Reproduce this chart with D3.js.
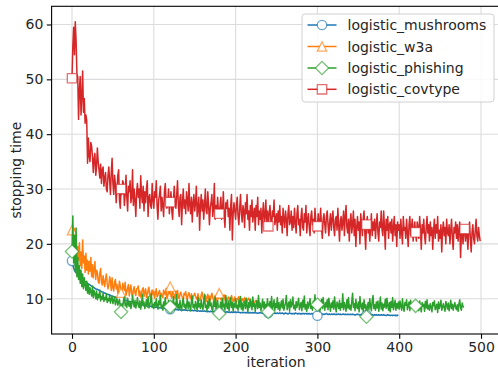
<!DOCTYPE html>
<html><head><meta charset="utf-8">
<script src="https://cdn.jsdelivr.net/npm/d3@7"></script>
<style>body{margin:0;background:#fff}svg{display:block}</style>
</head><body>
<svg id="c" width="498" height="370"></svg>
<script>
const seriesNames = ["logistic_mushrooms", "logistic_w3a", "logistic_phishing", "logistic_covtype"];
const seriesColors = ["#1f77b4", "#ff7f0e", "#2ca02c", "#d62728"];
const seriesMarkers = ["circle", "triangle", "diamond", "square"];
const xTicks = [0, 100, 200, 300, 400, 500];
const yTicks = [10, 20, 30, 40, 50, 60];
const markEvery = 60;
const xLabel = "iteration";
const yLabel = "stopping time";

const mushrooms = [
16.9,16.2,15.6,15.2,14.9,14.7,14.5,14.4,14.2,14.1,
13.9,13.8,13.6,13.5,13.4,13.2,13.1,13.0,12.9,12.8,
12.7,12.6,12.5,12.4,12.3,12.2,12.1,12.0,11.9,11.8,
11.7,11.7,11.6,11.5,11.4,11.4,11.3,11.2,11.2,11.1,
11.0,11.0,10.9,10.8,10.8,10.7,10.7,10.6,10.5,10.5,
10.4,10.4,10.3,10.3,10.2,10.2,10.1,10.1,10.0,10.0,
9.9,9.9,9.8,9.8,9.7,9.7,9.7,9.6,9.6,9.5,
9.5,9.5,9.4,9.4,9.4,9.3,9.3,9.3,9.2,9.2,
9.2,9.1,9.1,9.0,9.0,8.9,8.9,8.9,8.8,8.8,
8.8,8.7,8.7,8.7,8.6,8.6,8.6,8.6,8.5,8.5,
8.5,8.5,8.4,8.5,8.4,8.4,8.3,8.4,8.3,8.3,
8.3,8.2,8.3,8.2,8.2,8.2,8.1,8.2,8.1,8.1,
8.1,8.1,8.2,8.0,8.1,8.0,8.0,8.1,8.0,8.0,
7.9,8.0,8.0,7.9,8.0,7.9,7.9,8.0,7.9,7.9,
7.9,7.8,7.9,7.9,7.8,7.9,7.8,7.9,7.8,7.8,
7.9,7.8,7.8,7.7,7.8,7.8,7.7,7.8,7.7,7.8,
7.7,7.7,7.8,7.7,7.7,7.6,7.7,7.7,7.6,7.7,
7.7,7.6,7.7,7.6,7.6,7.7,7.6,7.6,7.7,7.6,
7.6,7.6,7.5,7.6,7.6,7.5,7.6,7.6,7.5,7.6,
7.6,7.5,7.6,7.5,7.5,7.6,7.5,7.5,7.6,7.5,
7.6,7.5,7.5,7.6,7.5,7.5,7.4,7.5,7.5,7.4,
7.5,7.5,7.4,7.5,7.4,7.5,7.4,7.4,7.5,7.4,
7.4,7.5,7.4,7.4,7.5,7.4,7.4,7.3,7.4,7.4,
7.5,7.4,7.4,7.3,7.4,7.4,7.3,7.4,7.4,7.3,
7.4,7.4,7.3,7.4,7.3,7.4,7.4,7.3,7.4,7.3,
7.3,7.4,7.3,7.3,7.4,7.3,7.3,7.4,7.3,7.2,
7.3,7.4,7.3,7.3,7.2,7.3,7.4,7.3,7.3,7.2,
7.3,7.3,7.2,7.4,7.3,7.3,7.2,7.3,7.3,7.2,
7.3,7.2,7.3,7.3,7.2,7.3,7.3,7.2,7.3,7.2,
7.3,7.2,7.2,7.3,7.2,7.3,7.2,7.2,7.3,7.1,
6.9,7.2,7.3,7.2,7.2,7.3,7.2,7.2,7.1,7.2,
7.2,7.3,7.2,7.1,7.2,7.2,7.1,7.2,7.2,7.1,
7.2,7.2,7.1,7.2,7.1,7.2,7.2,7.1,7.2,7.1,
7.1,7.2,7.2,7.1,7.2,7.1,7.1,7.2,7.1,7.1,
7.2,7.1,7.1,7.2,7.1,7.1,7.0,7.1,7.1,7.2,
7.1,7.1,7.0,7.1,7.1,7.0,7.1,7.1,7.0,7.1,
7.0,7.1,7.1,7.0,7.1,7.0,7.1,7.1,7.0,7.0,
7.1,7.0,7.1,7.0,7.0,7.1,7.0,7.0,7.1,7.0,
7.0,7.1,7.0,7.0,6.9,7.0,7.1,7.0,7.0,6.9,
7.0,7.0,6.9,7.0,7.0,6.9,7.0,6.9,7.0,6.9
];

const w3a = [
22.5,21.0,17.5,22.8,18.0,21.0,16.5,19.5,17.0,20.2,
16.0,18.5,15.5,20.7,16.5,17.8,14.8,18.3,15.2,17.0,
14.5,16.8,15.0,17.5,14.0,16.2,13.8,15.5,16.8,13.5,
15.2,14.8,13.2,12.8,14.6,15.5,13.0,12.5,14.2,13.0,
12.2,13.6,14.5,12.8,11.8,12.4,14.0,13.2,11.5,13.8,
12.0,11.4,13.0,13.5,11.8,12.6,11.0,11.6,13.2,12.4,
11.1,10.8,12.8,12.2,11.5,13.0,10.6,11.2,12.0,12.6,
10.5,11.8,12.5,10.8,10.4,11.6,12.2,11.0,10.6,11.8,
11.9,12.3,10.5,11.4,10.3,10.9,11.7,12.0,10.4,11.3,
11.8,10.2,10.8,11.5,12.1,10.5,10.0,11.2,11.6,10.7,
11.4,10.1,11.0,11.8,10.3,10.6,11.2,11.5,10.2,11.0,
10.5,10.2,11.6,11.1,10.7,11.9,10.0,10.5,11.3,10.9,
12.2,10.4,10.1,11.2,11.0,10.6,10.0,11.4,10.8,11.5,
10.3,10.0,10.9,11.2,10.6,10.2,9.8,11.0,10.7,11.3,
10.1,9.9,10.8,11.1,10.4,10.0,10.9,9.7,10.3,10.6,
11.0,10.5,10.1,9.8,10.9,10.2,9.6,10.0,10.7,11.2,
10.3,9.8,10.1,10.6,9.5,10.2,10.8,9.9,10.5,9.6,
10.4,11.0,10.3,9.7,9.9,10.6,9.5,10.2,11.1,10.0,
11.0,10.5,9.8,10.0,9.6,10.4,10.7,9.9,9.4,10.1,
9.7,10.3,10.2,9.5,9.8,10.6,10.0,9.4,9.7,10.3,
9.5,9.3,10.1,9.9,10.4,9.6,9.2,9.5,10.0,9.8,
9.3,10.2,9.6,9.1,9.4,9.9,10.1,9.7,9.2,9.5,
9.0,9.8,9.3,9.1,9.6,9.7,9.2,9.5,9.1
];

const phishing = [
18.6,25.1,16.5,21.5,15.0,22.9,14.0,17.5,13.5,16.0,
12.8,15.2,12.2,14.5,11.8,13.8,12.5,11.5,13.2,11.0,
12.6,10.8,12.0,11.2,10.5,12.3,10.2,11.5,10.9,10.0,
11.4,9.8,10.8,10.2,11.6,9.6,10.4,9.9,11.0,9.5,
10.2,9.8,10.9,9.3,10.0,9.6,10.6,9.2,9.9,10.4,
9.1,9.7,10.3,8.9,9.5,10.0,8.8,9.4,9.9,8.7,
7.6,9.0,8.5,9.8,10.3,8.7,9.2,8.4,10.1,9.0,
8.6,9.5,8.2,8.9,10.6,9.3,8.5,9.7,8.3,9.1,
10.2,8.8,8.4,9.6,8.1,9.0,10.8,8.7,9.4,8.2,
8.9,9.8,8.5,10.4,8.3,8.8,9.5,10.9,8.4,9.0,
8.2,9.3,8.7,10.0,8.6,8.1,9.6,8.9,10.6,8.4,
8.8,7.9,9.4,8.6,10.2,8.3,9.1,8.0,9.7,8.5,
8.5,9.6,8.2,8.9,10.4,8.0,9.2,8.6,10.7,8.3,
9.0,8.1,9.7,8.4,7.8,9.3,10.1,8.5,9.0,7.9,
8.8,9.9,8.2,9.4,8.6,7.8,9.6,10.5,8.4,8.9,
8.1,9.5,8.7,7.9,10.2,8.5,9.1,8.2,9.8,8.6,
8.0,9.3,10.8,8.4,8.8,7.8,9.6,8.3,10.0,8.7,
9.2,8.1,7.7,9.5,8.6,10.3,8.2,8.9,9.7,8.0,
7.3,8.8,9.4,8.1,10.1,8.5,9.0,7.9,10.6,8.7,
8.2,9.6,7.8,8.9,10.2,8.4,9.3,7.7,9.1,8.5,
10.0,8.3,8.8,7.9,9.7,8.5,10.4,8.1,9.2,7.8,
8.9,9.5,8.2,10.1,8.6,7.6,9.3,8.4,9.9,8.8,
8.0,10.3,8.6,9.1,7.7,8.9,9.6,8.2,10.6,8.4,
9.2,7.8,8.7,9.9,8.3,9.4,7.6,9.0,8.5,10.0,
7.6,8.9,9.5,8.2,10.4,8.0,8.7,9.8,7.9,9.1,
8.4,10.2,8.1,9.3,7.8,8.8,9.6,8.3,9.9,7.9,
8.6,9.2,10.6,8.0,8.7,9.4,7.7,9.8,8.5,9.0,
10.3,8.2,8.8,7.9,9.5,8.4,9.1,10.1,8.0,8.6,
9.3,7.8,9.7,8.5,10.5,8.1,8.9,7.7,9.4,8.3,
9.0,10.0,8.2,8.7,7.9,9.6,8.4,10.7,8.1,9.1,
8.9,8.3,9.5,7.6,8.8,9.9,8.2,10.2,8.6,7.9,
9.3,8.5,9.8,8.0,10.1,8.7,7.7,9.2,8.4,9.6,
8.1,10.3,8.6,7.6,9.4,8.9,8.2,9.7,7.9,9.1,
8.4,10.9,8.0,9.3,8.6,7.7,9.8,8.3,10.2,8.1,
8.8,7.9,9.5,11.0,8.4,9.1,7.8,9.9,8.5,8.2,
9.4,7.6,10.4,8.7,8.1,9.2,7.7,9.8,8.3,8.9,
6.7,8.5,9.3,8.0,10.0,8.6,7.8,9.7,10.6,8.2,
8.9,7.9,9.4,8.3,9.6,7.7,8.8,10.3,8.1,9.2,
7.8,9.0,8.5,9.9,8.2,10.1,8.7,7.9,9.3,7.6,
9.5,8.4,10.2,8.0,8.8,9.7,7.9,9.1,8.3,9.4,
8.1,9.6,8.6,7.9,10.0,8.4,7.7,9.3,8.8,9.8,
8.0,8.7,9.4,7.8,9.7,8.3,9.0,8.5,9.5,7.9,
8.7,9.2,8.0,8.9,7.8,9.6,8.4,7.6,9.3,8.6,
9.0,7.7,9.5,8.3,9.8,8.1,8.8,7.9,9.1,8.5,
7.6,9.3,8.7,9.6,8.0,8.4,9.0,7.5,9.4,8.2,
8.8,9.7,7.9,8.5,9.1,8.3,7.7,9.5,8.9,8.1,
9.2,7.8,8.6,9.7,8.2,9.0,7.9,8.7,9.3,8.4,
8.0,8.9,7.7,9.1,9.8,8.3,7.9,9.2,8.6,8.4
];

const covtype = [
50.2,56,59.5,54.5,60.5,57,51,50.5,42.7,48,
50.5,43.5,47,51.5,44,46.5,42,43.5,42.5,34.7,
39.3,36,35,38.5,37.8,36,33,35.5,36.5,32.5,
34,37.5,35,33.5,32,34.5,31,33.5,34,30.5,
32,33,30,29.5,32.5,34,31.5,29,33,35.6,
31,29,32.5,31,27.5,30,32.5,33.5,28,26.5,
30,29,31.5,31,27,29,32.5,28.5,26,30.5,
29.5,31.5,27.5,28.5,33.5,27,30,28,25,29.5,
31,28.5,30,26.5,32.4,29,27.5,30.5,26,29.5,
27.5,30,31.5,25,28.5,29,27,26.5,31,28,
26.5,29.5,28.5,31.5,27,24.5,28,29,30.5,26,
28.5,27,25,29.5,31,28,26.5,27.5,30,25.5,
27.6,29.5,26,24.5,28,30.5,27.5,26.5,29,31.5,
27,25,28.5,29,23.5,27.5,30,26.5,28,25.5,
29.5,28,26,31,27,25.5,28.5,24,27.5,29,
26,27.5,30.5,25,26.5,28.5,22.5,27,29,26,
28,24.5,27,30,26,25.5,29.5,27,23.5,26.5,
27.5,29,25,26.5,31,24.5,27,25.5,28.5,26,
25.5,27,28.5,24.5,26,29.5,25,23,27.5,26.5,
28,25,26.5,22.5,27,29,20.7,25.5,27.5,26,
24.5,27,28.5,25,23.5,26.5,29,25.5,24,27,
26,23,27.5,25.5,29,24.5,26,22.5,27,25,
28,24,25.5,26.5,22.5,27,25,28.5,23.5,26,
24.5,26.5,22,25.5,27.5,24,25,28,23,26,
23.2,25.5,27,24.5,22.5,26,25,28,23.5,24.5,
25.5,22.5,26,24,27,23.5,25,22,26.5,24.5,
23,26,24.5,21.5,25.5,27,23.5,24,26,22.5,
25,23,26.5,24,22,25.5,27,23.5,24.5,21.5,
25,26.5,23,22.5,25.5,24,27,22,24.5,25.5,
23,21.5,25,26,23.5,24.5,22,26.5,24,23,
23.2,25.5,22.5,24,26.5,23,21,24.5,25.5,23.5,
22,25,26,23.5,21.5,24,25.5,22.5,24.5,26,
23,21.5,24.5,25,22.5,26.5,23.5,20.5,24,25,
22.5,24,26,21.5,25,27,23,22,24.5,20.5,
24,25.5,22,23.5,26,21.5,24.5,19.5,23,25,
22.5,24,20,25.5,23.5,21.5,24.5,26,22,19,
23.5,25,22,24,20.5,23,25.5,21.5,24,22.5,
24.5,21,23.5,25.5,22,20.5,24,23,26,22.5,
21.5,26,23,19,24.5,22.5,25,21,23.5,24,
22,24.5,20.5,23,25,21.5,23.5,19.5,24,22.5,
23.5,21,24.5,22,20,25,22.5,23,21,24.5,
22,19.5,23.5,25,21.5,23,24.5,20.5,22.5,24,
22.1,20.5,24,23,21,25,22.5,19,23.5,22,
24.5,21.5,20,23,25,22,23.5,20.5,24,21.5,
23,19,22.5,24.5,21,23.5,22,25,20.5,22.5,
21,23.5,18.5,22.5,24,21.5,23,20,24.5,22,
21.5,23.5,20,22.5,24.5,21,19,23,22,24,
21,23.5,20.5,22.5,24,17.5,21.5,23,20,22.5,
22.7,20.5,23,21.5,19,22.5,24,21,18.5,22,
23.5,21,20,22.5,24.5,21.5,20.5,23,21.5,20.5
];

const seriesValues = [mushrooms, w3a, phishing, covtype];

const W = 498, H = 370;
const plot = {left: 51.6, right: 500.6, top: 6.3, bottom: 334};
const svg = d3.select("#c");
const FONT = "DejaVu Sans";
const fs = "14px";
const textColor = "#262626";

const x = d3.scaleLinear().domain([-24.95, 523.95]).range([plot.left, plot.right]);
const y = d3.scaleLinear().domain([3.56, 63.32]).range([plot.bottom, plot.top]);

svg.append("rect").attr("width", W).attr("height", H).attr("fill", "#fff");

const grid = svg.append("g");
grid.selectAll("line.gx").data(xTicks).join("line")
  .attr("x1", d => x(d)).attr("x2", d => x(d))
  .attr("y1", plot.top).attr("y2", plot.bottom)
  .attr("stroke", "#dcdcdc").attr("stroke-width", 1.1);
grid.selectAll("line.gy").data(yTicks).join("line")
  .attr("y1", d => y(d)).attr("y2", d => y(d))
  .attr("x1", plot.left).attr("x2", plot.right)
  .attr("stroke", "#dcdcdc").attr("stroke-width", 1.1);

const xAxis = d3.axisBottom(x).tickValues(xTicks).tickSize(4.8).tickPadding(3.5);
const yAxis = d3.axisLeft(y).tickValues(yTicks).tickSize(4.8).tickPadding(3.5);
const gx = svg.append("g").attr("transform", `translate(0,${plot.bottom})`).call(xAxis);
const gy = svg.append("g").attr("transform", `translate(${plot.left},0)`).call(yAxis);
[gx, gy].forEach(g => {
  g.select(".domain").remove();
  g.selectAll(".tick line").attr("stroke", "#000").attr("stroke-width", 1.1);
  g.selectAll(".tick text").attr("fill", textColor)
    .style("font-family", FONT).style("font-size", fs);
});

function markerPath(type, size) {
  const s = size;
  if (type === "circle") return d3.symbol(d3.symbolCircle, Math.PI * (s / 2) * (s / 2))();
  if (type === "square") return `M${-s/2},${-s/2}H${s/2}V${s/2}H${-s/2}Z`;
  if (type === "triangle") return `M0,${-s/2}L${s/2},${s/2}L${-s/2},${s/2}Z`;
  if (type === "diamond") { const r = s * Math.SQRT2 / 2; return `M0,${-r}L${r},0L0,${r}L${-r},0Z`; }
}
const markerSize = 9.4;

const line = d3.line().x((d, i) => x(i)).y(d => y(d));
const plotG = svg.append("g");
seriesValues.forEach((vals, k) => {
  const g = plotG.append("g");
  g.append("path").datum(vals).attr("d", line)
    .attr("fill", "none").attr("stroke", seriesColors[k])
    .attr("stroke-width", 1.5).attr("stroke-linejoin", "round");
  const idx = d3.range(0, vals.length, markEvery);
  g.selectAll("path.m").data(idx).join("path")
    .attr("d", markerPath(seriesMarkers[k], markerSize))
    .attr("transform", i => `translate(${x(i)},${y(vals[i])})`)
    .attr("fill", "#fff")
    .attr("stroke", seriesColors[k]).attr("stroke-opacity", 0.65)
    .attr("stroke-width", 1.3);
});

svg.append("rect").attr("x", plot.left).attr("y", plot.top)
  .attr("width", plot.right - plot.left).attr("height", plot.bottom - plot.top)
  .attr("fill", "none").attr("stroke", "#000").attr("stroke-width", 1.1);

svg.append("text").attr("x", (plot.left + plot.right) / 2).attr("y", 367)
  .attr("text-anchor", "middle").style("font-family", FONT).style("font-size", fs)
  .attr("fill", textColor).text(xLabel);
svg.append("text").attr("transform", `translate(21,${(plot.top + plot.bottom) / 2}) rotate(-90)`)
  .attr("text-anchor", "middle").style("font-family", FONT).style("font-size", fs)
  .attr("fill", textColor).text(yLabel);

const leg = svg.append("g");
leg.append("rect").attr("x", 302).attr("y", 14).attr("width", 192).attr("height", 88)
  .attr("rx", 3).attr("fill", "#fff").attr("fill-opacity", 0.85)
  .attr("stroke", "#d0d0d0").attr("stroke-width", 1);
const rowY = [25, 46.5, 68, 89.3];
seriesNames.forEach((name, k) => {
  const cy = rowY[k];
  leg.append("line").attr("x1", 307.5).attr("x2", 336.5).attr("y1", cy).attr("y2", cy)
    .attr("stroke", seriesColors[k]).attr("stroke-width", 1.5);
  leg.append("path").attr("d", markerPath(seriesMarkers[k], markerSize))
    .attr("transform", `translate(322,${cy})`)
    .attr("fill", "#fff").attr("stroke", seriesColors[k]).attr("stroke-opacity", 0.65).attr("stroke-width", 1.3);
  leg.append("text").attr("x", 347.5).attr("y", cy + 5)
    .style("font-family", FONT).style("font-size", fs).attr("fill", textColor).text(name);
});
</script>
</body></html>
